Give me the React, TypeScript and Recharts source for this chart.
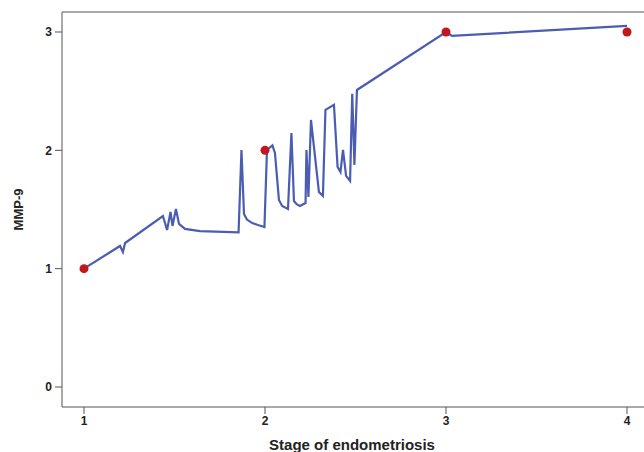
import { LineChart, Line, XAxis, YAxis, ReferenceLine } from 'recharts';

// fitted curve
const stageX = [
  1.0, 1.199, 1.215, 1.227, 1.436, 1.459, 1.478, 1.489, 1.508, 1.525, 1.558, 1.641,
  1.854, 1.87, 1.884, 1.9, 1.93, 1.961, 1.997, 2.011, 2.041, 2.055, 2.077, 2.095, 2.127, 2.146,
  2.16, 2.175, 2.193, 2.224, 2.229, 2.24, 2.254, 2.298, 2.32, 2.334, 2.381, 2.401, 2.417,
  2.431, 2.448, 2.47, 2.482, 2.494, 2.508, 3.0, 3.033, 4.0,
];
const mmp9 = [
  1.0, 1.192, 1.141, 1.217, 1.445, 1.327, 1.479, 1.361, 1.505, 1.378, 1.336, 1.318,
  1.306, 2.003, 1.462, 1.415, 1.385, 1.369, 1.352, 2.003, 2.041, 1.978, 1.581, 1.53, 1.505, 2.147,
  1.572, 1.545, 1.53, 1.555, 2.003, 1.606, 2.257, 1.648, 1.615, 2.342, 2.384, 1.86, 1.817,
  2.003, 1.784, 1.741, 2.477, 1.877, 2.51, 3.0, 2.967, 3.052,
];

// observed points
const obsStage = [1, 2, 3, 4];
const obsMmp9 = [1, 2, 3, 3];

const xTicks = [1, 2, 3, 4];
const yTicks = [0, 1, 2, 3];

const curve = stageX.map((x, i) => ({ x, y: mmp9[i] }));
const dots = obsStage.map((x, i) => ({ x, y: obsMmp9[i] }));

const X_DOMAIN: [number, number] = [0.8785, 4.116];
const Y_DOMAIN: [number, number] = [-0.169, 3.169];

const font = '"Liberation Sans", Arial, sans-serif';
const axisColor = '#555';
const tickStyle = { fontFamily: font, fontSize: 12, fontWeight: 700, fill: '#222' };

export default function App() {
  return (
    <div style={{ position: 'absolute', left: 0, top: 0, width: 644, height: 452, overflow: 'hidden', background: '#fff' }}>
      <LineChart width={650} height={452} margin={{ top: 12, right: 2, left: 0, bottom: 0 }}>
        <XAxis
          type="number"
          dataKey="x"
          domain={X_DOMAIN}
          ticks={xTicks}
          allowDataOverflow
          height={45}
          stroke={axisColor}
          tickSize={7}
          tickMargin={2}
          tick={tickStyle}
          label={{
            value: 'Stage of endometriosis',
            position: 'insideBottom',
            offset: 2,
            dx: -3,
            style: { fontFamily: font, fontSize: 15, fontWeight: 700, fill: '#222' },
          }}
        />
        <YAxis
          type="number"
          dataKey="y"
          domain={Y_DOMAIN}
          ticks={yTicks}
          allowDataOverflow
          width={62}
          stroke={axisColor}
          tickSize={7}
          tickMargin={3}
          tick={tickStyle}
          label={{
            value: 'MMP-9',
            angle: -90,
            position: 'insideLeft',
            offset: 18,
            style: { textAnchor: 'middle', fontFamily: font, fontSize: 13, fontWeight: 700, fill: '#222' },
          }}
        />
        <ReferenceLine y={Y_DOMAIN[1]} stroke={axisColor} />
        <Line
          data={dots}
          dataKey="y"
          stroke="none"
          dot={{ r: 4.5, fill: '#c1171d', stroke: 'none' }}
          activeDot={false}
          isAnimationActive={false}
        />
        <Line
          data={curve}
          dataKey="y"
          type="linear"
          stroke="#4a5db3"
          strokeWidth={2.2}
          dot={false}
          activeDot={false}
          isAnimationActive={false}
        />
      </LineChart>
    </div>
  );
}
